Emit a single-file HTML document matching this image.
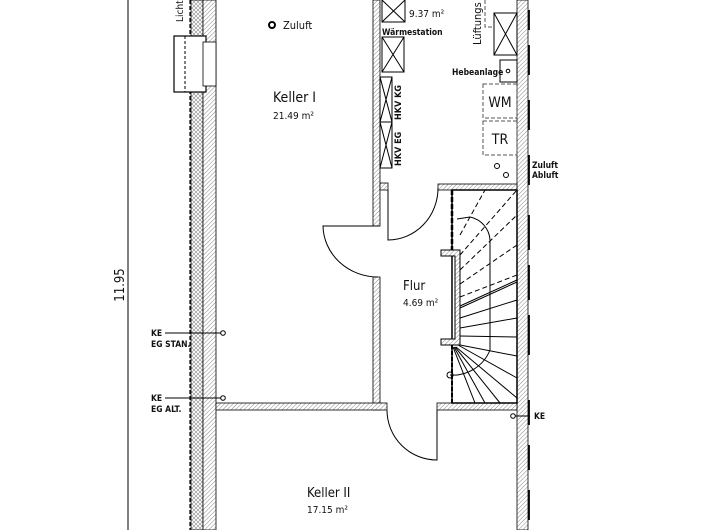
<!DOCTYPE html>
<html><head><meta charset="utf-8"><style>
html,body{margin:0;padding:0;background:#fff;}
svg{display:block;}
text{font-family:"DejaVu Sans Condensed","Liberation Sans",sans-serif;fill:#111;}
</style></head><body>
<svg width="720" height="530" viewBox="0 0 720 530" xmlns="http://www.w3.org/2000/svg">
<defs>
<pattern id="h" width="3" height="3" patternUnits="userSpaceOnUse" patternTransform="rotate(45)">
<rect width="3" height="3" fill="#fff"/><line x1="0" y1="0" x2="0" y2="3" stroke="#888" stroke-width="1"/></pattern>
<pattern id="x" width="4" height="4" patternUnits="userSpaceOnUse">
<rect width="4" height="4" fill="#fff"/><path d="M0 0L4 4M4 0L0 4" stroke="#888" stroke-width="0.6"/></pattern>
</defs>
<line x1="128" y1="0" x2="128" y2="530" stroke="#000" stroke-width="1"/>
<text x="124" y="285" font-size="13" transform="rotate(-90 124 285)" text-anchor="middle">11.95</text>
<rect x="191" y="0" width="12" height="530" fill="url(#x)" stroke="#000" stroke-width="0.8"/>
<line x1="190" y1="0" x2="190" y2="530" stroke="#000" stroke-width="1.2" stroke-dasharray="4,2"/>
<rect x="203" y="0" width="13" height="530" fill="url(#h)" stroke="#000" stroke-width="0.8"/>
<rect x="174" y="36" width="32" height="56" fill="#fff" stroke="#000" stroke-width="1.2"/>
<rect x="203" y="42" width="13" height="44" fill="#fff" stroke="#000" stroke-width="0.8"/>
<line x1="185" y1="36" x2="185" y2="92" stroke="#000" stroke-width="1" stroke-dasharray="3,2"/>
<text x="183" y="22" font-size="10" transform="rotate(-90 183 22)">Licht</text>
<rect x="373" y="0" width="7" height="226" fill="url(#h)" stroke="#000" stroke-width="0.8"/>
<rect x="380" y="183" width="8" height="7" fill="url(#h)" stroke="#000" stroke-width="0.8"/>
<rect x="373" y="277" width="7" height="133" fill="url(#h)" stroke="#000" stroke-width="0.8"/>
<rect x="517" y="0" width="11" height="530" fill="url(#h)" stroke="#000" stroke-width="0.8"/>
<g stroke="#000" stroke-width="1.8">
<line x1="529" y1="10" x2="529" y2="30"/><line x1="529" y1="45" x2="529" y2="75"/><line x1="529" y1="100" x2="529" y2="130"/><line x1="529" y1="155" x2="529" y2="185"/><line x1="529" y1="215" x2="529" y2="250"/><line x1="529" y1="265" x2="529" y2="300"/><line x1="529" y1="315" x2="529" y2="355"/><line x1="529" y1="400" x2="529" y2="425"/><line x1="529" y1="445" x2="529" y2="470"/><line x1="529" y1="490" x2="529" y2="520"/></g>
<rect x="438" y="184" width="79" height="6" fill="url(#h)" stroke="#000" stroke-width="0.8"/>
<rect x="216" y="403" width="171" height="7" fill="url(#h)" stroke="#000" stroke-width="0.8"/>
<rect x="437" y="403" width="80" height="7" fill="url(#h)" stroke="#000" stroke-width="0.8"/>
<g fill="none" stroke="#000" stroke-width="1">
<path d="M380 226 L323 226 A55 52 0 0 0 378 277"/>
<path d="M388 190 L388 240 A50 52 0 0 0 438 188"/>
<path d="M437 410 L437 460 A50 50 0 0 1 387 410"/>
</g>
<rect x="452" y="190" width="65" height="213" fill="none" stroke="#000" stroke-width="1.5"/>
<line x1="452" y1="190" x2="452" y2="250" stroke="#000" stroke-width="2.5" stroke-dasharray="5,2"/>
<path d="M441 250 H460 V345 H441 V339 H455 V256 H441 Z" fill="url(#h)" stroke="#000" stroke-width="1"/>
<g stroke="#000" stroke-width="1" fill="none">
<path d="M457 219 L470 217 A25 25 0 0 1 490 240 V350 A40 40 0 0 1 450 375"/>
<line x1="460" y1="255" x2="517" y2="190" stroke-dasharray="5,3"/>
<line x1="460" y1="235" x2="485" y2="190" stroke-dasharray="5,3"/>
<line x1="460" y1="270" x2="517" y2="215" stroke-dasharray="5,3"/>
<line x1="460" y1="284" x2="517" y2="245" stroke-dasharray="5,3"/>
<line x1="460" y1="297" x2="517" y2="275" stroke-dasharray="5,3"/>
<line x1="460" y1="306" x2="517" y2="280"/>
<line x1="460" y1="308" x2="517" y2="282"/>
<line x1="460" y1="318" x2="517" y2="300"/>
<line x1="460" y1="328" x2="517" y2="318"/>
<line x1="460" y1="336" x2="517" y2="337"/>
<line x1="460" y1="345" x2="517" y2="356"/>
<line x1="458" y1="345" x2="517" y2="378"/>
<line x1="456" y1="347" x2="517" y2="398"/>
<line x1="455" y1="347" x2="500" y2="403"/>
<line x1="454" y1="347" x2="485" y2="403"/>
<line x1="453" y1="347" x2="475" y2="403"/>
<circle cx="450" cy="375" r="3"/>
</g>
<line x1="452" y1="345" x2="452" y2="403" stroke="#000" stroke-width="2" stroke-dasharray="4,2"/>
<g fill="none" stroke="#000" stroke-width="1">
<path d="M382 0 V22 H405 V0 M382 0 L405 22 M405 0 L382 22"/>
<rect x="382" y="37" width="22" height="35"/><path d="M382 37L404 72M404 37L382 72"/>
<rect x="380" y="77" width="12" height="45"/><path d="M380 77L392 122M392 77L380 122"/>
<rect x="380" y="122" width="12" height="46"/><path d="M380 122L392 168M392 122L380 168"/>
<rect x="494" y="13" width="23" height="42"/><path d="M494 13L517 55M517 13L494 55"/>
<rect x="500" y="60" width="17" height="22"/><circle cx="508" cy="71" r="1.8"/>
<circle cx="497" cy="166" r="2.5"/><circle cx="506" cy="175" r="2.5"/>
</g>
<g fill="none" stroke="#555" stroke-width="1" stroke-dasharray="4,2">
<path d="M485 0 V27 H494"/>
<rect x="483" y="84" width="34" height="34"/>
<rect x="483" y="121" width="34" height="34"/>
</g>
<circle cx="272" cy="25" r="3" fill="none" stroke="#000" stroke-width="2"/>
<text x="283" y="29" font-size="11">Zuluft</text>
<text x="273" y="102" font-size="14">Keller I</text>
<text x="273" y="119" font-size="10" fill="#333">21.49 m²</text>
<text x="409" y="17" font-size="10" fill="#333">9.37 m²</text>
<text x="382" y="35" font-size="8.5" font-weight="bold">Wärmestation</text>
<text x="481" y="45" font-size="11" transform="rotate(-90 481 45)">Lüftungs</text>
<text x="452" y="75" font-size="8.5" font-weight="bold">Hebeanlage</text>
<text x="500" y="107" font-size="14" text-anchor="middle">WM</text>
<text x="500" y="144" font-size="14" text-anchor="middle">TR</text>
<text x="401" y="120" font-size="9" font-weight="bold" transform="rotate(-90 401 120)">HKV KG</text>
<text x="401" y="166" font-size="9" font-weight="bold" transform="rotate(-90 401 166)">HKV EG</text>
<text x="532" y="168" font-size="8.5" font-weight="bold">Zuluft</text>
<text x="532" y="178" font-size="8.5" font-weight="bold">Abluft</text>
<text x="403" y="290" font-size="13">Flur</text>
<text x="403" y="306" font-size="10" fill="#333">4.69 m²</text>
<text x="307" y="497" font-size="13">Keller II</text>
<text x="307" y="513" font-size="10" fill="#333">17.15 m²</text>
<g stroke="#000" stroke-width="1" fill="none">
<line x1="165" y1="333" x2="221" y2="333"/><circle cx="223" cy="333" r="2.3"/>
<line x1="165" y1="398" x2="221" y2="398"/><circle cx="223" cy="398" r="2.3"/>
<line x1="515" y1="416" x2="530" y2="416"/><circle cx="513" cy="416" r="2.3"/>
</g>
<text x="151" y="336" font-size="8.5" font-weight="bold">KE</text>
<text x="151" y="347" font-size="8.5" font-weight="bold">EG STAN.</text>
<text x="151" y="401" font-size="8.5" font-weight="bold">KE</text>
<text x="151" y="412" font-size="8.5" font-weight="bold">EG ALT.</text>
<text x="534" y="419" font-size="8.5" font-weight="bold">KE</text>
</svg>
</body></html>
